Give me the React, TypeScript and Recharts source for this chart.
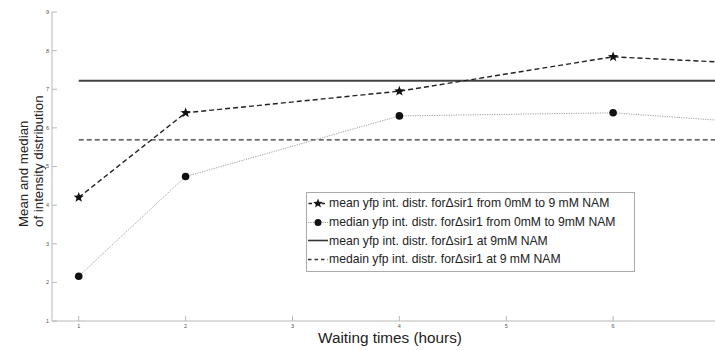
import { Legend, Line, LineChart, XAxis, YAxis } from "recharts";

// waiting time (hours) of each measurement
const X_VALUES = [1, 2, 4, 6, 8];
// yfp intensity distribution for Δsir1, 0 mM -> 9 mM NAM
const MEAN_0_TO_9MM = [4.2, 6.39, 6.95, 7.84, 7.57];
const MEDIAN_0_TO_9MM = [2.16, 4.74, 6.31, 6.39, 6.0];
// reference levels at 9 mM NAM
const MEAN_AT_9MM = 7.22;
const MEDIAN_AT_9MM = 5.69;

const X_TICKS = [1, 2, 3, 4, 5, 6];
const Y_TICKS = [1, 2, 3, 4, 5, 6, 7, 8, 9];

const LEGEND_LABELS = [
  "mean yfp int. distr. for\u0394sir1 from 0mM to 9 mM NAM",
  "median yfp int. distr. for\u0394sir1 from 0mM to 9mM NAM",
  "mean yfp int. distr. for\u0394sir1 at 9mM NAM",
  "medain yfp int. distr. for\u0394sir1 at 9 mM NAM",
];

const FONT = "'Liberation Sans', Arial, Helvetica, sans-serif";
const AXIS_COLOR = "#b8b8b8";
const TICK_STYLE = { fontSize: 5.5, fill: "#555", fontFamily: FONT };

const rows = X_VALUES.map((x, i) => ({
  x,
  mean: MEAN_0_TO_9MM[i],
  median: MEDIAN_0_TO_9MM[i],
  meanAt9: MEAN_AT_9MM,
  medianAt9: MEDIAN_AT_9MM,
}));

const starPoints = (cx: number, cy: number, outer: number, inner: number) => {
  const pts: string[] = [];
  for (let k = 0; k < 10; k++) {
    const r = k % 2 === 0 ? outer : inner;
    const a = -Math.PI / 2 + (k * Math.PI) / 5;
    pts.push(`${cx + r * Math.cos(a)},${cy + r * Math.sin(a)}`);
  }
  return pts.join(" ");
};

const StarDot = (props: any) => {
  const { cx, cy } = props;
  if (cx == null || cy == null) return null;
  return <polygon points={starPoints(cx, cy, 5.4, 2.3)} fill="#111" />;
};

const RoundDot = (props: any) => {
  const { cx, cy } = props;
  if (cx == null || cy == null) return null;
  return <circle cx={cx} cy={cy} r={3.8} fill="#111" />;
};

// two-line label, both lines start at the same height (left aligned once rotated)
const YLabel = (props: any) => {
  const vb = props.viewBox || {};
  const bottom = (vb.y ?? 12) + (vb.height ?? 309) - 94;
  const style = { fontSize: 13.3, fill: "#222", fontFamily: FONT };
  return (
    <g>
      <text transform={`translate(28, ${bottom}) rotate(-90)`} textAnchor="start" style={style}>
        Mean and median
      </text>
      <text transform={`translate(43, ${bottom}) rotate(-90)`} textAnchor="start" style={style}>
        of intensity distribution
      </text>
    </g>
  );
};

const XLabel = (props: any) => {
  const vb = props.viewBox || {};
  const cx = (vb.x ?? 52) + (vb.width ?? 668) / 2 + 4;
  const baseline = (vb.y ?? 321) + 21.5;
  return (
    <text x={cx} y={baseline} textAnchor="middle" style={{ fontSize: 15.3, fill: "#222", fontFamily: FONT }}>
      Waiting times (hours)
    </text>
  );
};

const LegendSymbol = ({ index }: { index: number }) => {
  if (index === 0) {
    return (
      <svg width={22} height={19}>
        <line x1={1} x2={21} y1={9.5} y2={9.5} stroke="#222" strokeWidth={1.3} strokeDasharray="3.5 3" strokeDashoffset={-0.5} />
        <polygon points={starPoints(11, 9.5, 5, 2.1)} fill="#111" />
      </svg>
    );
  }
  if (index === 1) {
    return (
      <svg width={22} height={19}>
        <line x1={1} x2={21} y1={9.5} y2={9.5} stroke="#999" strokeWidth={1} strokeDasharray="1.2 1.2" />
        <circle cx={11} cy={9.5} r={3.5} fill="#111" />
      </svg>
    );
  }
  if (index === 2) {
    return (
      <svg width={22} height={19}>
        <line x1={1} x2={21} y1={9.5} y2={9.5} stroke="#333" strokeWidth={1.6} />
      </svg>
    );
  }
  return (
    <svg width={22} height={19}>
      <line x1={1} x2={21} y1={9.5} y2={9.5} stroke="#333" strokeWidth={1.3} strokeDasharray="3.5 3" />
    </svg>
  );
};

const LegendBox = () => (
  <div
    style={{
      boxSizing: "border-box",
      width: 329,
      height: 80,
      border: "1px solid #aaa",
      background: "#fff",
      paddingTop: 1,
      fontFamily: FONT,
      fontSize: 12.2,
      color: "#222",
    }}
  >
    {LEGEND_LABELS.map((label, i) => (
      <div key={label} style={{ display: "flex", alignItems: "center", height: 18.7, whiteSpace: "nowrap" }}>
        <LegendSymbol index={i} />
        <span>{label}</span>
      </div>
    ))}
  </div>
);

export default function App() {
  return (
    <div
      style={{
        position: "absolute",
        left: 0,
        top: 0,
        width: 715,
        height: 350,
        overflow: "hidden",
        background: "#fff",
      }}
    >
      <LineChart width={722} height={350} data={rows} margin={{ top: 12, right: 2, bottom: 0, left: 0 }}>
        <XAxis
          dataKey="x"
          type="number"
          domain={[0.75, 7]}
          allowDataOverflow
          ticks={X_TICKS}
          height={29}
          tickSize={-5}
          tickMargin={8}
          tick={TICK_STYLE}
          axisLine={{ stroke: AXIS_COLOR }}
          tickLine={{ stroke: AXIS_COLOR }}
          label={<XLabel />}
        />
        <XAxis
          xAxisId="top"
          orientation="top"
          dataKey="x"
          type="number"
          domain={[0.75, 7]}
          allowDataOverflow
          ticks={X_TICKS}
          height={0}
          tickSize={-5}
          tick={false}
          axisLine={{ stroke: AXIS_COLOR }}
          tickLine={{ stroke: AXIS_COLOR }}
        />
        <YAxis
          type="number"
          domain={[1, 9]}
          ticks={Y_TICKS}
          width={52}
          tickSize={-5}
          tickMargin={8}
          tick={TICK_STYLE}
          axisLine={{ stroke: AXIS_COLOR }}
          tickLine={{ stroke: AXIS_COLOR }}
          label={<YLabel />}
        />
        <YAxis
          yAxisId="right"
          orientation="right"
          type="number"
          domain={[1, 9]}
          ticks={Y_TICKS}
          width={0}
          tickSize={-5}
          tick={false}
          axisLine={{ stroke: AXIS_COLOR }}
          tickLine={{ stroke: AXIS_COLOR }}
        />
        <Line
          dataKey="meanAt9"
          stroke="#444"
          strokeWidth={1.8}
          dot={false}
          isAnimationActive={false}
        />
        <Line
          dataKey="medianAt9"
          stroke="#333"
          strokeWidth={1.4}
          strokeDasharray="5 3"
          dot={false}
          isAnimationActive={false}
        />
        <Line
          dataKey="median"
          stroke="#a0a0a0"
          strokeWidth={1}
          strokeDasharray="1.2 1.2"
          dot={<RoundDot />}
          isAnimationActive={false}
        />
        <Line
          dataKey="mean"
          stroke="#222"
          strokeWidth={1.4}
          strokeDasharray="5 3"
          dot={<StarDot />}
          isAnimationActive={false}
        />
        <Legend
          layout="horizontal"
          verticalAlign="middle"
          align="center"
          content={<LegendBox />}
          wrapperStyle={{ left: 306, top: 192, width: 329 }}
        />
      </LineChart>
    </div>
  );
}
